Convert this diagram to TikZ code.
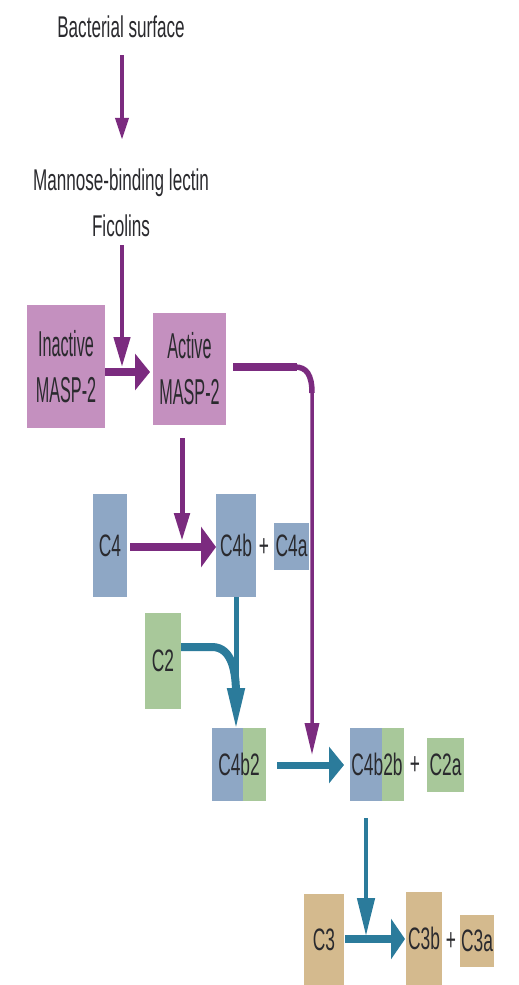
\documentclass[tikz,border=0pt]{standalone}
\usepackage{fontspec}
\setmainfont{Liberation Sans}
\newfontfamily\fTop{Liberation Sans}[FakeStretch=0.57]
\newfontfamily\fMasp{Liberation Sans}[FakeStretch=0.45]
\newfontfamily\fC{Liberation Sans}[FakeStretch=0.56]
\usetikzlibrary{arrows.meta,calc}
\definecolor{mauve}{HTML}{C490BF}
\definecolor{cblue}{HTML}{8EA7C5}
\definecolor{cgreen}{HTML}{A8C89A}
\definecolor{ctan}{HTML}{D4BA8E}
\definecolor{apurple}{HTML}{7B2B7F}
\definecolor{ateal}{HTML}{2B7B9B}
\definecolor{txt}{HTML}{2A2A2E}
\begin{document}
\begin{tikzpicture}[x=1pt,y=-1pt,
  box/.style={rectangle,inner sep=0pt,outer sep=0pt,text=txt},
  lbl/.style={font=\fC\fontsize{31}{31}\selectfont},
  masp/.style={font=\fMasp\fontsize{36}{46}\selectfont,align=center},
  toptext/.style={font=\fTop\fontsize{30}{46}\selectfont,align=center,text=txt,inner sep=0pt},
  plus/.style={font=\fC\fontsize{31}{31}\selectfont,text=txt,inner sep=0pt},
  pline/.style={draw=apurple},
  tline/.style={draw=ateal},
  vtipP/.style={-{Triangle[length=30pt,width=16pt]}},
  htip/.style={-{Triangle[length=15pt,width=36pt]}},
  vtipT/.style={-{Triangle[length=38pt,width=17pt]}}
]
\useasboundingbox (0,0) rectangle (519,985);
\fill[white] (0,0) rectangle (519,985);

% texts
\node[toptext] (bact) at (121,27) {Bacterial surface};
\node[toptext] (mbl) at (121,203) {Mannose-binding lectin\\Ficolins};

% boxes
\node[box,masp,fill=mauve,minimum width=78pt,minimum height=123pt] (inact) at (66,366.5) {Inactive\\MASP-2};
\node[box,masp,fill=mauve,minimum width=73pt,minimum height=112pt] (act) at (189.5,369) {Active\\MASP-2};
\node[box,lbl,fill=cblue,minimum width=34pt,minimum height=103pt] (c4) at (110,545.5) {C4};
\node[box,lbl,fill=cblue,minimum width=40pt,minimum height=103pt] (c4b) at (236,545.5) {C4b};
\node[plus] (p1) at (264,548) {+};
\node[box,lbl,fill=cblue,minimum width=35pt,minimum height=47pt] (c4a) at (291.5,546) {C4a};
\node[box,lbl,fill=cgreen,minimum width=36pt,minimum height=96pt] (c2) at (163,661) {C2};
\node[box,lbl,fill=cgreen,minimum width=54pt,minimum height=73pt,
  path picture={\fill[cblue] (path picture bounding box.north west) rectangle ([xshift=31pt]path picture bounding box.south west);}] (c4b2) at (239,764.5) {C4b2};
\node[box,lbl,fill=cgreen,minimum width=54pt,minimum height=73pt,
  path picture={\fill[cblue] (path picture bounding box.north west) rectangle ([xshift=32pt]path picture bounding box.south west);}] (c4b2b) at (377,764.5) {C4b2b};
\node[plus] (p2) at (415,766) {+};
\node[box,lbl,fill=cgreen,minimum width=37pt,minimum height=54pt] (c2a) at (445.5,765) {C2a};
\node[box,lbl,fill=ctan,minimum width=40pt,minimum height=91pt] (c3) at (324,939.5) {C3};
\node[box,lbl,fill=ctan,minimum width=36pt,minimum height=93pt] (c3b) at (424,938.5) {C3b};
\node[plus] (p3) at (451,942) {+};
\node[box,lbl,fill=ctan,minimum width=34pt,minimum height=52pt] (c3a) at (477,941) {C3a};

% junctions
\coordinate (j1) at (122,372);
\coordinate (j2) at (182,547);
\coordinate (j3) at (312,765);
\coordinate (j4) at (366,939);
\coordinate (j5) at (236,694);
\coordinate (pstart) at ([xshift=7pt,yshift=2pt]act.east);

% purple connectors
\draw[pline,line width=4pt,-{Triangle[length=22pt,width=13pt]},shorten <=17pt,shorten >=29pt] (bact.south -| j1) -- (mbl.north -| j1);
\draw[pline,line width=4.5pt,vtipP,shorten <=8pt,shorten >=5pt] (mbl.south -| j1) -- (j1);
\draw[pline,line width=7.5pt,htip,shorten >=3pt] (inact.east |- j1) -- (act.west |- j1);
\draw[pline,line width=3.5pt,-{Triangle[length=32pt,width=14pt]},shorten >=10pt]
  (pstart) -- (pstart -| 296,0) .. controls (pstart -| 306,0) and (j3 |- 0,374) .. (j3 |- 0,392) -- (j3);
\draw[pline,line width=8pt] (pstart) -- (pstart -| 297,0);
\draw[pline,line width=5.5pt] (pstart -| 295,0) .. controls (pstart -| 306,0) and (j3 |- 0,374) .. (j3 |- 0,393);
\draw[pline,line width=5pt,-{Triangle[length=28pt,width=15pt]},shorten <=13pt,shorten >=6pt] (act.south -| j2) -- (j2);
\draw[pline,line width=8pt,-{Triangle[length=15pt,width=40pt]},shorten <=3pt] (c4.east |- j2) -- (c4b.west |- j2);

% teal connectors
\draw[tline,line width=5pt,-{Triangle[length=40pt,width=17pt]}] (c4b.south) -- (c4b2.north -| c4b.south);
\draw[tline,line width=8pt] ([yshift=14pt]c2.east) -- ++(31,0) to[out=0,in=90] (j5);
\draw[tline,line width=7pt,htip,shorten <=11pt,shorten >=6pt] (c4b2.east |- j3) -- (c4b2b.west |- j3);
\draw[tline,line width=4.5pt,vtipT,shorten <=17pt,shorten >=3pt] (c4b2b.south -| j4) -- (j4);
\draw[tline,line width=8pt,-{Triangle[length=14pt,width=40pt]},shorten <=1pt,shorten >=1pt] (c3.east |- j4) -- (c3b.west |- j4);
\end{tikzpicture}
\end{document}
